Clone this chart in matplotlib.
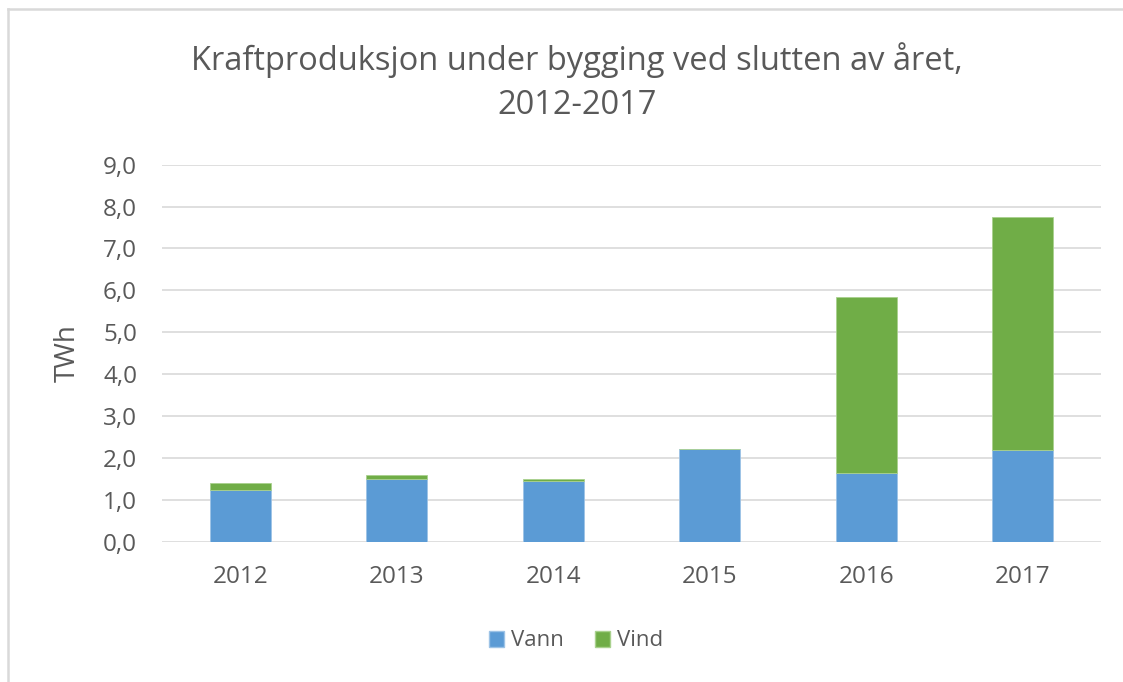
import matplotlib
matplotlib.use("Agg")
import matplotlib.pyplot as plt
from matplotlib.lines import Line2D
from matplotlib.patches import Patch

years = ["2012", "2013", "2014", "2015", "2016", "2017"]
vann = [1.23, 1.49, 1.45, 2.22, 1.65, 2.20]
vind = [0.18, 0.10, 0.04, 0.00, 4.18, 5.54]
yticks = [0, 1, 2, 3, 4, 5, 6, 7, 8, 9]
ytick_labels = ["0,0", "1,0", "2,0", "3,0", "4,0", "5,0", "6,0", "7,0", "8,0", "9,0"]
title_lines = ["Kraftproduksjon under bygging ved slutten av året,", "2012-2017"]

plt.rcParams['font.family'] = ['Open Sans', 'DejaVu Sans']
W, H = 1123, 682
fig = plt.figure(figsize=(W / 100, H / 100), dpi=100)
ax = fig.add_axes([162 / W, 1 - 541.7 / H, (1101 - 162) / W, (541.7 - 164.7) / H])

text_col = "#595959"
blue = "#5B9BD5"
green = "#70AD47"
x = list(range(len(years)))
ax.bar(x, vann, width=0.39, color=blue, edgecolor="#9DC3E6", linewidth=0.6, zorder=3, label="Vann")
ax.bar(x, vind, width=0.39, bottom=vann, color=green, edgecolor="#A9D18E", linewidth=0.6, zorder=3, label="Vind")

ax.set_xlim(-0.5, len(years) - 0.5)
ax.set_ylim(0, 9)
ax.set_yticks(yticks)
ax.set_yticklabels(ytick_labels)
ax.set_xticks(x)
ax.set_xticklabels(years)
ax.tick_params(axis="both", length=0, labelsize=17.5, colors=text_col)
ax.tick_params(axis="y", pad=18)
ax.tick_params(axis="x", pad=17)
ax.grid(axis="y", color="#D9D9D9", linewidth=1.2, zorder=0)
for s in ax.spines.values():
    s.set_visible(False)

fig.text(68 / W, 1 - 353 / H, "TWh", rotation=90, ha="center", va="center", fontsize=20, color=text_col)

fig.text(577 / W, 1 - 70 / H, title_lines[0], ha="center", va="baseline", fontsize=23.5, color=text_col)
fig.text(577 / W, 1 - 114 / H, title_lines[1], ha="center", va="baseline", fontsize=23.5, color=text_col)

handles = [Patch(facecolor=blue, edgecolor="#9DC3E6"), Patch(facecolor=green, edgecolor="#A9D18E")]
fig.legend(handles, ["Vann", "Vind"], loc="center", bbox_to_anchor=(576 / W, 1 - 641 / H), ncol=2,
           frameon=False, fontsize=16, labelcolor=text_col, handlelength=0.7, handleheight=0.7,
           handletextpad=0.3, columnspacing=1.4)

# figure border lines (left and top)
fig.add_artist(Line2D([7.5 / W, 7.5 / W], [0, 1 - 9 / H], transform=fig.transFigure, color="#D9D9D9", linewidth=1.8))
fig.add_artist(Line2D([7.5 / W, 1], [1 - 9 / H, 1 - 9 / H], transform=fig.transFigure, color="#D9D9D9", linewidth=1.8))

fig.savefig("out.png", dpi=100, facecolor="white")
